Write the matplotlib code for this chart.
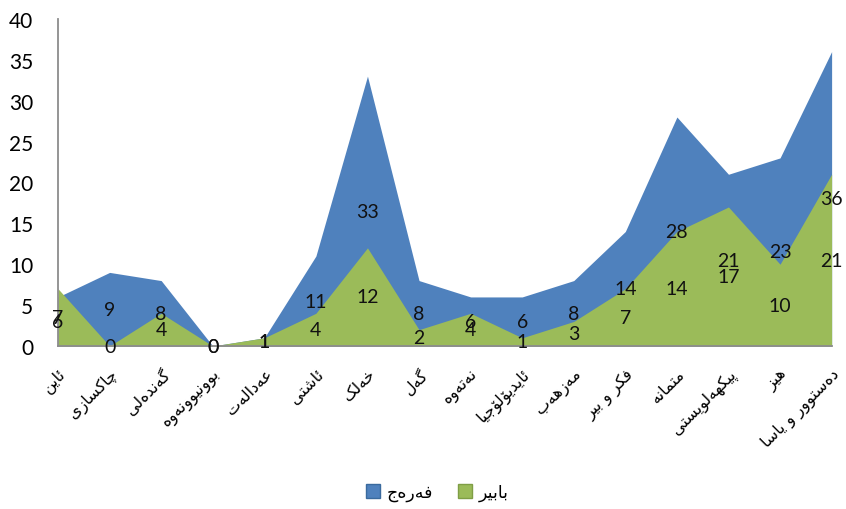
import matplotlib
matplotlib.use("Agg")
import matplotlib.pyplot as plt
from matplotlib import font_manager
from matplotlib.ft2font import FT2Font
from matplotlib.patches import Patch

categories = ["ئاین", "چاکسازی", "گەندەڵی", "بوونیوونەوە", "عەدالەت", "ئاشتی",
              "خەڵک", "گەل", "نەتەوە", "ئایدیۆلۆجیا", "مەزھەب", "فکر و بیر",
              "متمانە", "پێکهەڵوێستی", "هێز", "دەستوور و یاسا"]
farej = [6, 9, 8, 0, 1, 11, 33, 8, 6, 6, 8, 14, 28, 21, 23, 36]
babir = [7, 0, 4, 0, 1, 4, 12, 2, 4, 1, 3, 7, 14, 17, 10, 21]
series_names = ["فەرەج", "بابیر"]

BLUE = "#4F81BD"
GREEN = "#9BBB59"

# isolated, final, initial, medial presentation forms
FORMS = {
    "ئ": (0xFE89, 0xFE8A, 0xFE8B, 0xFE8C), "ا": (0xFE8D, 0xFE8E, None, None),
    "ب": (0xFE8F, 0xFE90, 0xFE91, 0xFE92), "ت": (0xFE95, 0xFE96, 0xFE97, 0xFE98),
    "ج": (0xFE9D, 0xFE9E, 0xFE9F, 0xFEA0), "خ": (0xFEA5, 0xFEA6, 0xFEA7, 0xFEA8),
    "د": (0xFEA9, 0xFEAA, None, None), "ر": (0xFEAD, 0xFEAE, None, None),
    "ز": (0xFEAF, 0xFEB0, None, None), "س": (0xFEB1, 0xFEB2, 0xFEB3, 0xFEB4),
    "ش": (0xFEB5, 0xFEB6, 0xFEB7, 0xFEB8), "ع": (0xFEC9, 0xFECA, 0xFECB, 0xFECC),
    "ف": (0xFED1, 0xFED2, 0xFED3, 0xFED4), "ل": (0xFEDD, 0xFEDE, 0xFEDF, 0xFEE0),
    "م": (0xFEE1, 0xFEE2, 0xFEE3, 0xFEE4), "ن": (0xFEE5, 0xFEE6, 0xFEE7, 0xFEE8),
    "ه": (0xFEE9, 0xFEEA, 0xFEEB, 0xFEEC), "و": (0xFEED, 0xFEEE, None, None),
    "ی": (0xFBFC, 0xFBFD, 0xFBFE, 0xFBFF), "پ": (0xFB56, 0xFB57, 0xFB58, 0xFB59),
    "چ": (0xFB7A, 0xFB7B, 0xFB7C, 0xFB7D), "ک": (0xFB8E, 0xFB8F, 0xFB90, 0xFB91),
    "گ": (0xFB92, 0xFB93, 0xFB94, 0xFB95), "ھ": (0xFBAA, 0xFBAB, 0xFBAC, 0xFBAD),
    "ۆ": (0xFBD9, 0xFBDA, None, None), "ە": (0xFEE9, 0xFEEA, None, None),
}
# kurdish letters drawn with the nearest encoded forms
FORMS["ێ"] = FORMS["ی"]
FORMS["ڵ"] = FORMS["ل"]
FORMS["ڕ"] = FORMS["ر"]


def pick_font():
    for name in ["DejaVu Sans", "Noto Sans Arabic", "FreeSans"]:
        try:
            path = font_manager.findfont(font_manager.FontProperties(family=name),
                                         fallback_to_default=False)
        except ValueError:
            continue
        cmap = FT2Font(path).get_charmap()
        if 0xFEEB in cmap:
            return name, cmap
    path = font_manager.findfont("DejaVu Sans")
    return "DejaVu Sans", FT2Font(path).get_charmap()


AR_FONT, AR_CMAP = pick_font()


def shape(text):
    out = []
    for i, ch in enumerate(text):
        if ch not in FORMS:
            out.append(ch)
            continue
        prev = text[i - 1] if i > 0 else ""
        nxt = text[i + 1] if i + 1 < len(text) else ""
        dual = FORMS[ch][2] is not None
        a = prev in FORMS and FORMS[prev][2] is not None
        b = dual and nxt in FORMS
        idx = 3 if (a and b) else 1 if a else 2 if b else 0
        code = FORMS[ch][idx]
        if code is None or code not in AR_CMAP:
            code = FORMS[ch][0] if FORMS[ch][0] in AR_CMAP else ord(ch)
        out.append(chr(code))
    return "".join(reversed(out))


fig = plt.figure(figsize=(8.46, 5.10), dpi=100)
ax = fig.add_axes([0.0686, 0.3196, 0.9144, 0.6414])

x = list(range(len(categories)))
ax.fill_between(x, farej, color=BLUE, lw=0)
ax.fill_between(x, babir, color=GREEN, lw=0)

for xi, v in zip(x, farej):
    ax.text(xi, v / 2, str(v), ha="center", va="center", fontsize=14,
            family="Lato", color="#111111", clip_on=False)
for xi, v in zip(x, babir):
    ax.text(xi, v / 2, str(v), ha="center", va="center", fontsize=14,
            family="Lato", color="#111111", clip_on=False)

ax.set_xlim(0, len(categories) - 1)
ax.set_ylim(0, 40)
ax.set_yticks(range(0, 41, 5))
ax.set_xticks(x)
ax.set_xticklabels([shape(c) for c in categories], rotation=45, ha="right",
                   va="top", rotation_mode="anchor", family=AR_FONT, fontsize=11.5)
for lab in ax.get_yticklabels():
    lab.set_family("Lato")
    lab.set_fontsize(15)
ax.tick_params(axis="both", length=0)
ax.tick_params(axis="y", pad=18)
ax.tick_params(axis="x", pad=14)

for side in ["top", "right"]:
    ax.spines[side].set_visible(False)
for side in ["left", "bottom"]:
    ax.spines[side].set_color("#8C8C8C")
    ax.spines[side].set_linewidth(1.3)

handles = [Patch(facecolor=BLUE, edgecolor="#3A6A9E"),
           Patch(facecolor=GREEN, edgecolor="#7F9E45")]
fig.legend(handles, [shape(s) for s in series_names], loc="center",
           bbox_to_anchor=(0.517, 0.033), ncol=2, frameon=False,
           handlelength=0.8, handleheight=0.8, handletextpad=0.4,
           columnspacing=1.4, prop={"family": AR_FONT, "size": 12.5})

fig.savefig("out.png", dpi=100)
